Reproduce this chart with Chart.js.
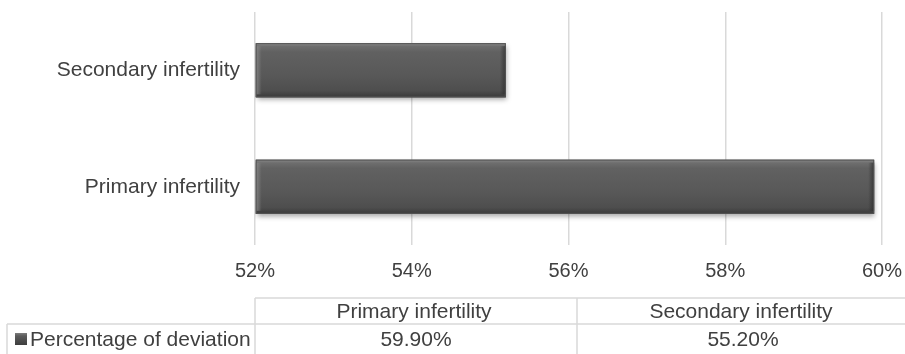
<!DOCTYPE html>
<html>
<head>
<meta charset="utf-8">
<script src="https://cdn.jsdelivr.net/npm/chart.js@4.4.1/dist/chart.umd.min.js"></script>
<style>
  html, body { margin: 0; padding: 0; background: #fff; }
  #wrap { width: 905px; height: 354px; }
</style>
</head>
<body>
<div id="wrap"><canvas id="grafico" width="905" height="354"></canvas></div>
<script>
// dados do gráfico
const categorias = ["Primary infertility", "Secondary infertility"];
const valores = [59.9, 55.2];
const nomeSerie = "Percentage of deviation";
const eixoMin = 52;
const eixoMax = 60;
const passo = 2;

const fonte = "'Liberation Sans', Arial, sans-serif";
const corTexto = "#404040";

// sombra e brilho das barras (efeito bisel do Excel)
const barraEstilo = {
    id: "barraEstilo",
    beforeDatasetsDraw(chart) {
        const c = chart.ctx;
        c.save();
        c.shadowColor = "rgba(0,0,0,0.35)";
        c.shadowBlur = 5;
        c.shadowOffsetX = 1;
        c.shadowOffsetY = 3;
    },
    afterDatasetsDraw(chart) {
        const c = chart.ctx;
        c.restore();
        const meta = chart.getDatasetMeta(0);
        meta.data.forEach(el => {
            const p = el.getProps(["x", "y", "base", "height"], true);
            const x0 = Math.min(p.base, p.x), x1 = Math.max(p.base, p.x);
            const y0 = p.y - p.height / 2, y1 = p.y + p.height / 2;
            const g = c.createLinearGradient(0, y0, 0, y1);
            g.addColorStop(0, "#8a8a8a");
            g.addColorStop(0.06, "#6e6e6e");
            g.addColorStop(0.16, "#616161");
            g.addColorStop(0.6, "#585858");
            g.addColorStop(0.88, "#4e4e4e");
            g.addColorStop(1, "#3a3a3a");
            c.save();
            c.fillStyle = g;
            c.fillRect(x0, y0, x1 - x0, y1 - y0);
            // bisel esquerdo e direito
            const gl = c.createLinearGradient(x0, 0, x0 + 6, 0);
            gl.addColorStop(0, "rgba(140,140,140,0.8)");
            gl.addColorStop(1, "rgba(140,140,140,0)");
            c.fillStyle = gl;
            c.fillRect(x0, y0 + 3, 6, y1 - y0 - 6);
            const gr = c.createLinearGradient(x1 - 6, 0, x1, 0);
            gr.addColorStop(0, "rgba(40,40,40,0)");
            gr.addColorStop(1, "rgba(40,40,40,0.7)");
            c.fillStyle = gr;
            c.fillRect(x1 - 6, y0 + 3, 6, y1 - y0 - 6);
            c.strokeStyle = "#555";
            c.lineWidth = 1;
            c.strokeRect(x0 + 0.5, y0 + 0.5, x1 - x0 - 1, y1 - y0 - 1);
            c.restore();
        });
    }
};

// tabela de dados por baixo do gráfico
const tabelaDados = {
    id: "tabelaDados",
    afterDraw(chart) {
        const c = chart.ctx;
        const area = chart.chartArea;
        const esq = area.left;
        const meio = 577;
        const yTopo = 298, yMeio = 324, yFundo = 354;
        c.save();
        c.strokeStyle = "#d9d9d9";
        c.lineWidth = 1.5;
        c.beginPath();
        c.moveTo(esq, yTopo); c.lineTo(905, yTopo);
        c.moveTo(7, yMeio); c.lineTo(905, yMeio);
        c.moveTo(esq, yTopo); c.lineTo(esq, yFundo);
        c.moveTo(meio, yTopo); c.lineTo(meio, yFundo);
        c.moveTo(7, yMeio); c.lineTo(7, yFundo);
        c.stroke();

        c.fillStyle = corTexto;
        c.font = "21px " + fonte;
        c.textAlign = "center";
        c.textBaseline = "middle";
        const centros = [414, 741];
        categorias.forEach((cat, i) => {
            c.fillText(cat, centros[i], 312);
            c.fillText(valores[i].toFixed(2) + "%", centros[i] + 2, 340);
        });

        // legenda da série
        const gq = c.createLinearGradient(0, 332, 0, 345);
        gq.addColorStop(0, "#8a8a8a");
        gq.addColorStop(0.3, "#5c5c5c");
        gq.addColorStop(1, "#3e3e3e");
        c.fillStyle = gq;
        c.fillRect(15, 333, 12, 12);
        c.fillStyle = corTexto;
        c.textAlign = "left";
        c.fillText(nomeSerie, 30, 340);
        c.restore();
    }
};

let ctx = document.getElementById("grafico").getContext("2d");
window.myChart = new Chart(ctx, {
    type: "bar",
    data: {
        labels: categorias,
        datasets: [{
            label: nomeSerie,
            data: valores,
            base: eixoMin,
            backgroundColor: "#595959",
            borderWidth: 0,
            barPercentage: 0.93,
            categoryPercentage: 0.5
        }]
    },
    options: {
        indexAxis: "y",
        responsive: false,
        animation: false,
        events: [],
        layout: {
            padding: { top: 12, right: 23, bottom: 57, left: 0 }
        },
        plugins: {
            legend: { display: false },
            tooltip: { enabled: false }
        },
        scales: {
            x: {
                min: eixoMin,
                max: eixoMax,
                border: { display: false },
                grid: { color: "#d9d9d9", lineWidth: 1.5, drawTicks: false },
                ticks: {
                    stepSize: passo,
                    padding: 14,
                    color: corTexto,
                    font: { family: fonte, size: 20 },
                    callback: v => v + "%"
                },
                afterFit(scale) { scale.paddingLeft = 0; scale.paddingRight = 0; }
            },
            y: {
                reverse: true,
                border: { display: false },
                grid: { display: false, drawTicks: false },
                ticks: {
                    padding: 15,
                    color: corTexto,
                    font: { family: fonte, size: 21 }
                },
                afterFit(scale) {
                    scale.width = 255;
                    scale.paddingTop = 0;
                    scale.paddingBottom = 0;
                }
            }
        }
    },
    plugins: [barraEstilo, tabelaDados]
});
</script>
</body>
</html>
